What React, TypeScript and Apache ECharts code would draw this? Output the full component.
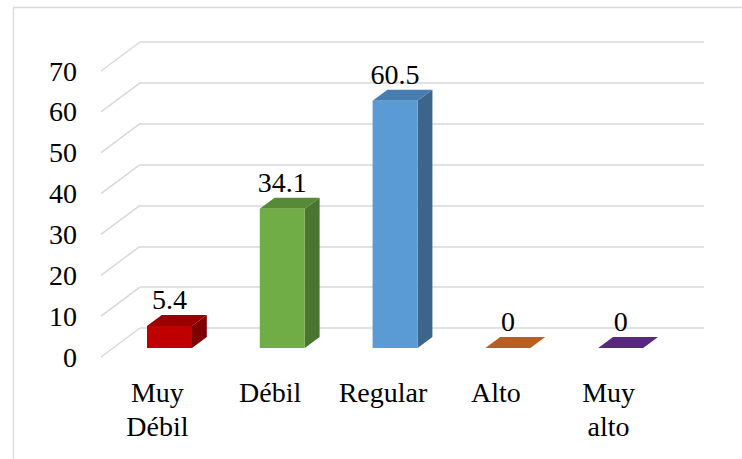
import React, { useEffect, useRef } from "react";
import * as echarts from "echarts";

// Categories and percentages shown on the chart
const categories: string[] = ["Muy\nDébil", "Débil", "Regular", "Alto", "Muy\nalto"];
const values: number[] = [5.4, 34.1, 60.5, 0, 0];
const yTicks: number[] = [0, 10, 20, 30, 40, 50, 60, 70];

// Face colours per bar: front, top, side
const frontColors = ["#C00000", "#70AD47", "#5B9BD5", "#ED7D31", "#7030A0"];
const topColors = ["#9A0000", "#578A37", "#477DB0", "#B95E22", "#58287F"];
const sideColors = ["#7E0000", "#4A7530", "#3B6689", "#9A4A15", "#46206A"];

const FONT = "Liberation Serif, Times New Roman, serif";
const GRID_LEFT = 140;
const GRID_TOP = 42;
const GRID_W = 564;
const GRID_H = 286;
// floor depth offset from the back wall to the front edge
const DEPTH_DX = -39;
const DEPTH_DY = 29;
// bar occupies this slice of the floor depth (0 = back wall, 1 = front)
const BAR_BACK = 0.31;
const BAR_FRONT = 0.69;
const BAR_HALF = 22.5;

export default function App() {
  const ref = useRef<HTMLDivElement>(null);

  useEffect(() => {
    if (!ref.current) return;
    const chart = echarts.init(ref.current, undefined, { renderer: "svg" });

    const option: any = {
      animation: false,
      backgroundColor: "#FFFFFF",
      textStyle: { fontFamily: FONT },
      graphic: [
        {
          type: "rect",
          left: 11,
          top: 5,
          shape: { x: 0, y: 0, width: 800, height: 520 },
          style: { fill: "none", stroke: "#D9D9D9", lineWidth: 1.3 },
          silent: true,
          z: -10,
        },
      ],
      grid: [
        { left: GRID_LEFT, top: GRID_TOP, width: GRID_W, height: GRID_H },
        { left: GRID_LEFT + DEPTH_DX, top: GRID_TOP + DEPTH_DY, width: GRID_W, height: GRID_H },
      ],
      xAxis: [
        { type: "category", gridIndex: 0, data: categories, show: false },
        {
          type: "category",
          gridIndex: 1,
          data: categories,
          axisLine: { show: false },
          axisTick: { show: false },
          axisLabel: {
            interval: 0,
            margin: 18,
            color: "#000000",
            fontFamily: FONT,
            fontSize: 28,
            lineHeight: 34,
          },
        },
      ],
      yAxis: [
        {
          type: "value",
          gridIndex: 0,
          min: 0,
          max: 70,
          interval: 10,
          axisLine: { show: false },
          axisTick: { show: false },
          axisLabel: { show: false },
          splitLine: { lineStyle: { color: "#D9D9D9", width: 1.5 } },
        },
        {
          type: "value",
          gridIndex: 1,
          min: 0,
          max: 70,
          interval: 10,
          axisLine: { show: false },
          axisTick: { show: false },
          splitLine: { show: false },
          axisLabel: {
            margin: 24,
            color: "#000000",
            fontFamily: FONT,
            fontSize: 28,
          },
        },
      ],
      series: [
        {
          // slanted floor lines joining each wall gridline to its front label
          type: "custom",
          xAxisIndex: 0,
          yAxisIndex: 0,
          silent: true,
          z: 1,
          data: yTicks.map((t) => [0, t]),
          renderItem: (params: any, api: any) => {
            const y = api.coord([0, api.value(1)])[1];
            const x = params.coordSys.x;
            return {
              type: "line",
              shape: { x1: x, y1: y, x2: x + DEPTH_DX, y2: y + DEPTH_DY },
              style: { stroke: "#D9D9D9", lineWidth: 1.5 },
            };
          },
        },
        {
          // 3D boxes with value labels
          type: "custom",
          xAxisIndex: 0,
          yAxisIndex: 0,
          z: 5,
          data: values.map((v, i) => [i, v]),
          renderItem: (params: any, api: any) => {
            const i = api.value(0);
            const v = api.value(1);
            const top = api.coord([i, v]);
            const base = api.coord([i, 0]);
            const cx = top[0];
            const fx = cx + DEPTH_DX * BAR_FRONT;
            const fyOff = DEPTH_DY * BAR_FRONT;
            const bx = cx + DEPTH_DX * BAR_BACK;
            const byOff = DEPTH_DY * BAR_BACK;
            const ftl = [fx - BAR_HALF, top[1] + fyOff];
            const ftr = [fx + BAR_HALF, top[1] + fyOff];
            const fbl = [fx - BAR_HALF, base[1] + fyOff];
            const fbr = [fx + BAR_HALF, base[1] + fyOff];
            const btl = [bx - BAR_HALF, top[1] + byOff];
            const btr = [bx + BAR_HALF, top[1] + byOff];
            const bbr = [bx + BAR_HALF, base[1] + byOff];
            const children: any[] = [];
            if (v > 0) {
              children.push({
                type: "polygon",
                shape: { points: [ftr, btr, bbr, fbr] },
                style: { fill: sideColors[i] },
              });
            }
            children.push({
              type: "polygon",
              shape: { points: [ftl, ftr, btr, btl] },
              style: { fill: topColors[i] },
            });
            if (v > 0) {
              children.push({
                type: "polygon",
                shape: { points: [ftl, ftr, fbr, fbl] },
                style: { fill: frontColors[i] },
              });
            }
            children.push({
              type: "text",
              style: {
                x: fx,
                y: top[1] + byOff - 1,
                text: String(values[i]),
                align: "center",
                verticalAlign: "bottom",
                fill: "#000000",
                fontFamily: FONT,
                fontSize: 28,
              },
            });
            return { type: "group", children };
          },
        },
      ],
    };

    chart.setOption(option);
    return () => chart.dispose();
  }, []);

  return (
    <div
      ref={ref}
      style={{ position: "absolute", left: 0, top: 0, width: 742, height: 459 }}
    />
  );
}
